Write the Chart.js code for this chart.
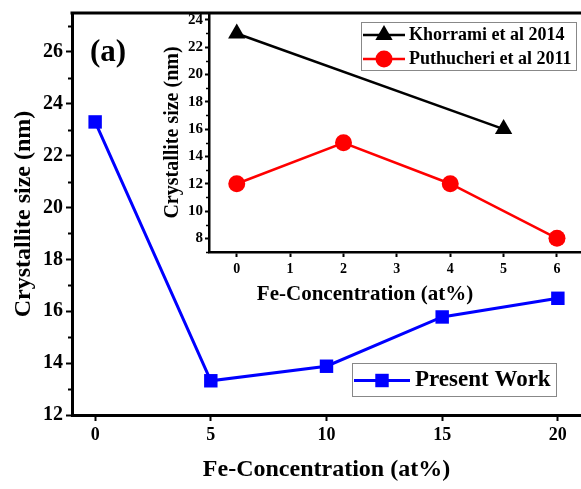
<!DOCTYPE html>
<html>
<head>
<meta charset="utf-8">
<script src="https://cdn.jsdelivr.net/npm/chart.js@4/dist/chart.umd.min.js"></script>
<style>
  html, body { margin: 0; padding: 0; background: #fff; }
  #wrap { position: relative; width: 581px; height: 489px; }
  canvas { position: absolute; left: 0; top: 0; }
  #tag { position: absolute; left: 90px; top: 35px; font: bold 31px 'Liberation Serif', 'Times New Roman', serif; line-height: 31px; color: #000; }
</style>
</head>
<body>
<div id="wrap">
  <canvas id="mainChart" width="581" height="489"></canvas>
  <canvas id="insetChart" width="581" height="489"></canvas>
  <div id="tag">(a)</div>
</div>
<script>
// main plot: present work
const feConc = [0, 5, 10, 15, 20]
const presentWork = [23.3, 13.32, 13.88, 15.78, 16.5]

// inset: literature values
const khorramiConc = [0, 5]
const khorrami = [23, 16]
const puthucheriConc = [0, 2, 4, 6]
const puthucheri = [12, 15, 12, 8]

const xTitle = 'Fe-Concentration (at%)'
const yTitle = 'Crystallite size (nm)'

const SERIF = "'Liberation Serif', 'Times New Roman', serif"
Chart.defaults.font.family = SERIF
Chart.defaults.font.weight = 'bold'
Chart.defaults.color = '#000'

const toPoints = (xs, ys) => xs.map((x, i) => ({ x: x, y: ys[i] }))

function drawMarker(ctx, style, x, y, r, color) {
  ctx.fillStyle = color
  ctx.beginPath()
  if (style === 'rect') {
    const s = Math.SQRT1_2 * r
    ctx.rect(x - s, y - s, 2 * s, 2 * s)
  } else if (style === 'triangle') {
    ctx.moveTo(x, y - r)
    ctx.lineTo(x + r * Math.sin(Math.PI / 3), y + r / 2)
    ctx.lineTo(x - r * Math.sin(Math.PI / 3), y + r / 2)
    ctx.closePath()
  } else {
    ctx.arc(x, y, r, 0, Math.PI * 2)
  }
  ctx.fill()
}

// legend in a box inside the plot (Origin style)
const boxLegend = {
  id: 'boxLegend',
  afterDraw(chart, args, opts) {
    const ctx = chart.ctx
    ctx.save()
    ctx.fillStyle = '#fff'
    ctx.fillRect(opts.x, opts.y, opts.w, opts.h)
    ctx.strokeStyle = '#888'
    ctx.lineWidth = 1
    ctx.strokeRect(opts.x + 0.5, opts.y + 0.5, opts.w, opts.h)
    chart.data.datasets.forEach((ds, i) => {
      const cy = opts.y + opts.rowH * (i + 0.5) + 1
      ctx.strokeStyle = ds.borderColor
      ctx.lineWidth = ds.borderWidth
      ctx.beginPath()
      ctx.moveTo(opts.lineX0, cy)
      ctx.lineTo(opts.lineX1, cy)
      ctx.stroke()
      drawMarker(ctx, ds.pointStyle, (opts.lineX0 + opts.lineX1) / 2, cy, ds.pointRadius, ds.pointBackgroundColor)
      ctx.fillStyle = '#000'
      ctx.font = 'bold ' + opts.fontSize + 'px ' + SERIF
      ctx.textBaseline = 'middle'
      ctx.fillText(ds.label, opts.textX, cy)
    })
    ctx.restore()
  },
}

// top frame line, minor ticks on the y axis, optional free-placed x title
const frameAndMinor = {
  id: 'frameAndMinor',
  afterDraw(chart, args, opts) {
    const { ctx, chartArea } = chart
    const y = chart.scales.y
    ctx.save()
    ctx.strokeStyle = '#000'
    if (opts.top) {
      ctx.lineWidth = opts.top
      ctx.beginPath()
      ctx.moveTo(chartArea.left - 1.5, chartArea.top)
      ctx.lineTo(chartArea.right, chartArea.top)
      ctx.stroke()
    }
    const vals = y.ticks.map(t => t.value)
    const step = vals[1] - vals[0]
    ctx.lineWidth = opts.minorWidth
    for (let v = vals[0] - step / 2; v <= y.max; v += step) {
      if (v < y.min) continue
      const py = Math.round(y.getPixelForValue(v)) + 0.5
      ctx.beginPath()
      ctx.moveTo(chartArea.left, py)
      ctx.lineTo(chartArea.left - opts.minorLen, py)
      ctx.stroke()
    }
    if (opts.xTitle) {
      ctx.fillStyle = '#000'
      ctx.font = 'bold ' + opts.xTitle.size + 'px ' + SERIF
      ctx.textAlign = 'center'
      ctx.textBaseline = 'middle'
      ctx.fillText(opts.xTitle.text, opts.xTitle.cx, opts.xTitle.cy)
    }
    ctx.restore()
  },
}

function axis(opts) {
  return {
    type: 'linear',
    min: opts.min,
    max: opts.max,
    ticks: {
      stepSize: opts.step,
      includeBounds: false,
      padding: opts.pad,
      font: { size: opts.tickSize, weight: 'bold' },
      color: '#000',
    },
    grid: {
      drawOnChartArea: false,
      drawTicks: true,
      tickLength: opts.tickLen,
      tickWidth: opts.tickWidth,
      tickColor: '#000',
    },
    border: { display: true, width: opts.border, color: '#000' },
    title: {
      display: !!opts.title,
      text: opts.title || '',
      color: '#000',
      font: { size: opts.titleSize, weight: 'bold' },
      padding: { top: 4, bottom: 4 },
    },
    afterFit: s => {
      if (s.isHorizontal()) s.height = opts.size
      else s.width = opts.size
      s.paddingLeft = 0
      s.paddingRight = 0
      s.paddingTop = 0
      s.paddingBottom = 0
    },
  }
}

new Chart(document.getElementById('mainChart'), {
  type: 'line',
  data: {
    datasets: [
      {
        label: 'Present Work',
        data: toPoints(feConc, presentWork),
        borderColor: '#0000ff',
        backgroundColor: '#0000ff',
        borderWidth: 3,
        pointStyle: 'rect',
        pointRadius: 9.5,
        pointBorderWidth: 0,
        pointBackgroundColor: '#0000ff',
      },
    ],
  },
  options: {
    responsive: false,
    animation: false,
    layout: { autoPadding: false, padding: { left: 5, top: 13, right: 0, bottom: 1 } },
    plugins: {
      legend: { display: false },
      tooltip: { enabled: false },
      boxLegend: { x: 352, y: 363, w: 204, h: 33, rowH: 33, lineX0: 354, lineX1: 410, textX: 415, fontSize: 23 },
      frameAndMinor: { top: 3, minorWidth: 2, minorLen: 4 },
    },
    scales: {
      x: axis({ min: -1, max: 21, step: 5, pad: 4, tickSize: 18, tickLen: 6, tickWidth: 2, border: 3,
        title: xTitle, titleSize: 24, size: 73 }),
      y: axis({ min: 12, max: 27.5, step: 2, pad: 3, tickSize: 20, tickLen: 6, tickWidth: 2, border: 3,
        title: yTitle, titleSize: 24, size: 67 }),
    },
  },
  plugins: [frameAndMinor, boxLegend],
})

new Chart(document.getElementById('insetChart'), {
  type: 'line',
  data: {
    datasets: [
      {
        label: 'Khorrami et al 2014',
        data: toPoints(khorramiConc, khorrami),
        borderColor: '#000000',
        borderWidth: 2.5,
        pointStyle: 'triangle',
        pointRadius: 10,
        pointBorderWidth: 0,
        pointBackgroundColor: '#000000',
      },
      {
        label: 'Puthucheri et al 2011',
        data: toPoints(puthucheriConc, puthucheri),
        borderColor: '#ff0000',
        borderWidth: 2.5,
        pointStyle: 'circle',
        pointRadius: 8.5,
        pointBorderWidth: 0,
        pointBackgroundColor: '#ff0000',
      },
    ],
  },
  options: {
    responsive: false,
    animation: false,
    layout: { autoPadding: false, padding: { left: 157, top: 13, right: 0, bottom: 180 } },
    plugins: {
      legend: { display: false },
      tooltip: { enabled: false },
      boxLegend: { x: 361, y: 22, w: 215, h: 48, rowH: 24, lineX0: 363, lineX1: 405, textX: 409, fontSize: 18 },
      frameAndMinor: { top: 0, minorWidth: 1.5, minorLen: 3, xTitle: { text: xTitle, size: 21, cx: 365, cy: 295 } },
    },
    scales: {
      x: axis({ min: -0.52, max: 6.45, step: 1, pad: 4, tickSize: 14, tickLen: 5, tickWidth: 2, border: 2.5,
        title: '', titleSize: 18, size: 57 }),
      y: axis({ min: 7, max: 24.5, step: 2, pad: 2, tickSize: 15, tickLen: 4, tickWidth: 2, border: 2.5,
        title: yTitle, titleSize: 20, size: 52 }),
    },
  },
  plugins: [frameAndMinor, boxLegend],
})
</script>
</body>
</html>
